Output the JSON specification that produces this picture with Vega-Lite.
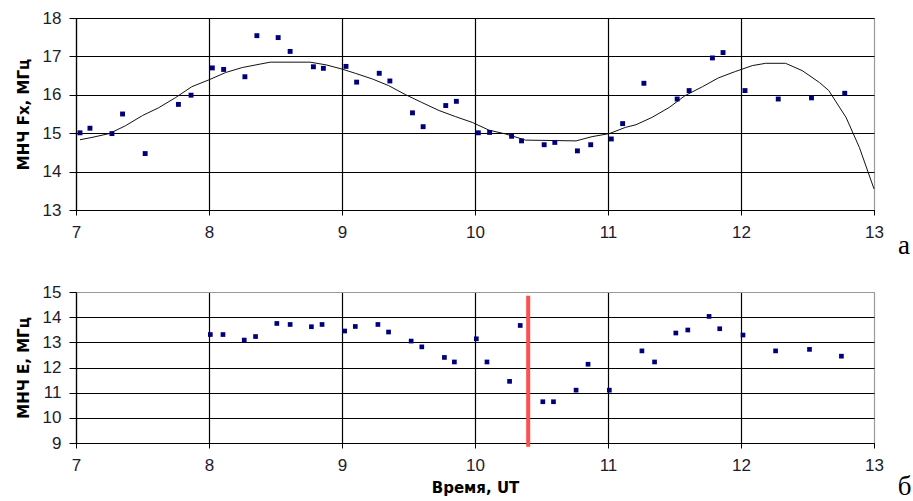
{
  "$schema": "https://vega.github.io/schema/vega-lite/v6.json",
  "background": "white",
  "padding": {"left": 15, "top": 8, "right": 0, "bottom": 0},
  "bounds": "flush",
  "spacing": 82,
  "datasets": {
    "fx": [
      {"t": 7.03, "v": 15.01}, {"t": 7.105, "v": 15.13}, {"t": 7.27, "v": 14.99}, {"t": 7.35, "v": 15.5},
      {"t": 7.52, "v": 14.47}, {"t": 7.77, "v": 15.75}, {"t": 7.865, "v": 15.99}, {"t": 8.025, "v": 16.7},
      {"t": 8.11, "v": 16.66}, {"t": 8.27, "v": 16.47}, {"t": 8.36, "v": 17.54}, {"t": 8.52, "v": 17.49},
      {"t": 8.61, "v": 17.13}, {"t": 8.785, "v": 16.73}, {"t": 8.86, "v": 16.69}, {"t": 9.03, "v": 16.74},
      {"t": 9.11, "v": 16.33}, {"t": 9.28, "v": 16.56}, {"t": 9.36, "v": 16.36}, {"t": 9.53, "v": 15.53},
      {"t": 9.61, "v": 15.17}, {"t": 9.78, "v": 15.72}, {"t": 9.86, "v": 15.83}, {"t": 10.025, "v": 15.01},
      {"t": 10.11, "v": 15.02}, {"t": 10.275, "v": 14.92}, {"t": 10.35, "v": 14.8}, {"t": 10.52, "v": 14.7},
      {"t": 10.6, "v": 14.76}, {"t": 10.77, "v": 14.54}, {"t": 10.87, "v": 14.7}, {"t": 11.025, "v": 14.85},
      {"t": 11.11, "v": 15.25}, {"t": 11.27, "v": 16.3}, {"t": 11.52, "v": 15.89}, {"t": 11.61, "v": 16.11},
      {"t": 11.785, "v": 16.96}, {"t": 11.865, "v": 17.1}, {"t": 12.03, "v": 16.11}, {"t": 12.28, "v": 15.89},
      {"t": 12.53, "v": 15.92}, {"t": 12.78, "v": 16.04}
    ],
    "trend": [
      {"t": 7.03, "v": 14.83}, {"t": 7.12, "v": 14.89}, {"t": 7.25, "v": 14.99}, {"t": 7.37, "v": 15.19},
      {"t": 7.5, "v": 15.46}, {"t": 7.62, "v": 15.66}, {"t": 7.75, "v": 15.93}, {"t": 7.87, "v": 16.21},
      {"t": 8.0, "v": 16.39}, {"t": 8.125, "v": 16.58}, {"t": 8.25, "v": 16.71}, {"t": 8.46, "v": 16.85},
      {"t": 8.76, "v": 16.85}, {"t": 8.88, "v": 16.78}, {"t": 9.0, "v": 16.67}, {"t": 9.1, "v": 16.56},
      {"t": 9.23, "v": 16.41}, {"t": 9.35, "v": 16.24}, {"t": 9.48, "v": 16.0}, {"t": 9.6, "v": 15.8},
      {"t": 9.73, "v": 15.59}, {"t": 9.855, "v": 15.43}, {"t": 9.98, "v": 15.28}, {"t": 10.105, "v": 15.08},
      {"t": 10.23, "v": 14.98}, {"t": 10.38, "v": 14.82}, {"t": 10.76, "v": 14.8}, {"t": 10.88, "v": 14.91},
      {"t": 11.01, "v": 14.99}, {"t": 11.13, "v": 15.15}, {"t": 11.21, "v": 15.22}, {"t": 11.33, "v": 15.41},
      {"t": 11.46, "v": 15.67}, {"t": 11.58, "v": 15.98}, {"t": 11.71, "v": 16.21}, {"t": 11.83, "v": 16.44},
      {"t": 11.96, "v": 16.61}, {"t": 12.085, "v": 16.76}, {"t": 12.185, "v": 16.82}, {"t": 12.335, "v": 16.82},
      {"t": 12.46, "v": 16.63}, {"t": 12.59, "v": 16.32}, {"t": 12.66, "v": 16.11}, {"t": 12.79, "v": 15.41},
      {"t": 12.89, "v": 14.63}, {"t": 13.0, "v": 13.55}
    ],
    "e": [
      {"t": 8.01, "v": 13.31}, {"t": 8.105, "v": 13.31}, {"t": 8.265, "v": 13.09}, {"t": 8.35, "v": 13.23},
      {"t": 8.51, "v": 13.75}, {"t": 8.61, "v": 13.71}, {"t": 8.77, "v": 13.62}, {"t": 8.85, "v": 13.71},
      {"t": 9.02, "v": 13.45}, {"t": 9.1, "v": 13.63}, {"t": 9.27, "v": 13.71}, {"t": 9.35, "v": 13.41},
      {"t": 9.52, "v": 13.05}, {"t": 9.6, "v": 12.82}, {"t": 9.77, "v": 12.4}, {"t": 9.845, "v": 12.22},
      {"t": 10.01, "v": 13.14}, {"t": 10.09, "v": 12.22}, {"t": 10.26, "v": 11.45}, {"t": 10.34, "v": 13.67},
      {"t": 10.51, "v": 10.64}, {"t": 10.59, "v": 10.64}, {"t": 10.76, "v": 11.1}, {"t": 10.85, "v": 12.13},
      {"t": 11.01, "v": 11.1}, {"t": 11.255, "v": 12.66}, {"t": 11.35, "v": 12.22}, {"t": 11.51, "v": 13.37},
      {"t": 11.6, "v": 13.49}, {"t": 11.76, "v": 14.03}, {"t": 11.84, "v": 13.54}, {"t": 12.015, "v": 13.29},
      {"t": 12.26, "v": 12.66}, {"t": 12.515, "v": 12.72}, {"t": 12.755, "v": 12.45}
    ],
    "marker": [{"t": 10.4, "lo": 8.85, "hi": 14.85}],
    "labA": [{"t": 13.226, "v": 11.85, "label": "а"}],
    "labB": [{"t": 13.23, "v": 6.93, "label": "б"}]
  },
  "config": {
    "view": {"stroke": "#9a9a9a", "strokeWidth": 1},
    "axis": {
      "labelFont": "Liberation Sans",
      "labelFontSize": 17,
      "labelColor": "#1c1c2c",
      "labelOverlap": false,
      "labelFlush": false,
      "format": "d",
      "titleFont": "DejaVu Sans",
      "titleFontWeight": "bold",
      "titleFontSize": 15,
      "titleColor": "#000",
      "domainColor": "#000",
      "domainWidth": 1.2,
      "tickColor": "#000",
      "gridOpacity": 1,
      "gridWidth": 1.2
    }
  },
  "vconcat": [
    {
      "width": 798,
      "height": 192,
      "layer": [
        {
          "data": {"name": "trend"},
          "mark": {"type": "line", "color": "#111", "strokeWidth": 1},
          "encoding": {
            "x": {"field": "t", "type": "quantitative",
              "scale": {"domain": [7, 13], "nice": false, "zero": false},
              "axis": {"title": null, "values": [7, 8, 9, 10, 11, 12, 13], "tickCount": 20, "format": "d", "tickSize": 5, "labelPadding": 9,
                "gridColor": {"condition": {"test": "datum.value == 13", "value": "#9a9a9a"}, "value": "#000"}}},
            "y": {"field": "v", "type": "quantitative",
              "scale": {"domain": [13, 18], "nice": false, "zero": false},
              "axis": {"title": "МНЧ Fx, МГц", "values": [13, 14, 15, 16, 17, 18], "tickCount": 20, "format": "d", "tickSize": 7, "labelPadding": 8, "titlePadding": 11,
                "gridColor": "#000"}}
          }
        },
        {
          "data": {"name": "fx"},
          "mark": {"type": "point", "shape": "square", "filled": true, "size": 24, "color": "#00007a", "opacity": 1},
          "encoding": {
            "x": {"field": "t", "type": "quantitative"},
            "y": {"field": "v", "type": "quantitative"}
          }
        },
        {
          "data": {"name": "labA"},
          "mark": {"type": "text", "font": "Liberation Serif", "fontSize": 27, "color": "#000", "align": "center", "baseline": "alphabetic"},
          "encoding": {
            "x": {"field": "t", "type": "quantitative"},
            "y": {"field": "v", "type": "quantitative"},
            "text": {"field": "label"}
          }
        }
      ]
    },
    {
      "width": 798,
      "height": 151,
      "layer": [
        {
          "data": {"name": "e"},
          "mark": {"type": "point", "shape": "square", "filled": true, "size": 22, "color": "#00007a", "opacity": 1},
          "encoding": {
            "x": {"field": "t", "type": "quantitative",
              "scale": {"domain": [7, 13], "nice": false, "zero": false},
              "axis": {"title": "Время, UT", "values": [7, 8, 9, 10, 11, 12, 13], "tickCount": 20, "format": "d", "tickSize": 5, "labelPadding": 9, "titlePadding": 7,
                "gridColor": {"condition": {"test": "datum.value == 13", "value": "#9a9a9a"}, "value": "#000"}}},
            "y": {"field": "v", "type": "quantitative",
              "scale": {"domain": [9, 15], "nice": false, "zero": false},
              "axis": {"title": "МНЧ Е, МГц", "values": [9, 10, 11, 12, 13, 14, 15], "tickCount": 20, "format": "d", "tickSize": 7, "labelPadding": 8, "titlePadding": 11,
                "gridColor": {"condition": {"test": "datum.value == 15", "value": "#9a9a9a"}, "value": "#000"}}}
          }
        },
        {
          "data": {"name": "marker"},
          "mark": {"type": "rule", "color": "#ff4f4f", "strokeWidth": 4},
          "encoding": {
            "x": {"field": "t", "type": "quantitative"},
            "y": {"field": "lo", "type": "quantitative"},
            "y2": {"field": "hi"}
          }
        },
        {
          "data": {"name": "labB"},
          "mark": {"type": "text", "font": "Liberation Serif", "fontSize": 27, "color": "#000", "align": "center", "baseline": "alphabetic"},
          "encoding": {
            "x": {"field": "t", "type": "quantitative"},
            "y": {"field": "v", "type": "quantitative"},
            "text": {"field": "label"}
          }
        }
      ]
    }
  ]
}
